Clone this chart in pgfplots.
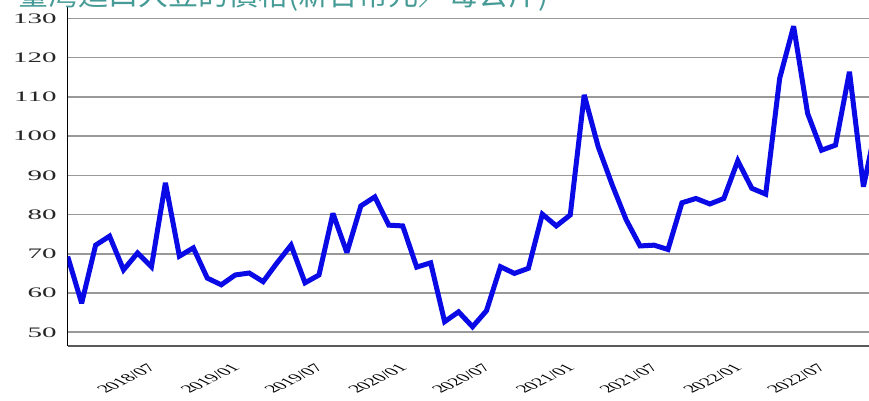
\documentclass[border=0pt]{standalone}
\usepackage{fontspec}
\setmainfont{Liberation Serif}
\newfontfamily\cjk{Noto Sans CJK TC}
\usepackage{pgfplots}
\pgfplotsset{compat=1.18}
\definecolor{titlec}{RGB}{70,155,150}
\definecolor{lineblue}{RGB}{10,10,230}

\begin{document}
\begin{tikzpicture}
\begin{axis}[
    at={(67.7pt,55pt)}, anchor=south west,
    scale only axis,
    width=801.3pt, height=339pt,
    xmin=0, xmax=57.4,
    ymin=46.5, ymax=132.9,
    axis x line=bottom, axis y line=left,
    axis line style={-},
    x axis line style={draw=black!65, line width=1.2pt},
    y axis line style={draw=black, line width=1.2pt},
    major tick length=0pt,
    ytick={50,60,...,130},
    ymajorgrids,
    grid style={draw=black!40, line width=1.6pt},
    xtick={6,12,18,24,30,36,42,48,54},
    xticklabels={2018/07,2019/01,2019/07,2020/01,2020/07,2021/01,2021/07,2022/01,2022/07},
    yticklabel style={/pgf/number format/assume math mode=true, font=\fontsize{14.5}{14.5}\selectfont, text=black!85, anchor=east, xshift=-4pt, xscale=2},
    xticklabel style={font=\fontsize{11}{11}\selectfont, anchor=east, inner sep=1pt, yshift=-19pt, xshift=2pt, xscale=2, rotate=45},
]
\addplot[lineblue, line width=5pt, line join=miter, miter limit=3] coordinates {
(0,69.3) (1,57.4) (2,72.2) (3,74.5) (4,65.9) (5,70.2) (6,66.7) (7,88.1)
(8,69.4) (9,71.5) (10,63.8) (11,62.1) (12,64.6) (13,65.1) (14,62.9) (15,67.7)
(16,72.2) (17,62.6) (18,64.6) (19,80.3) (20,70.3) (21,82.2) (22,84.5) (23,77.3)
(24,77.1) (25,66.6) (26,67.7) (27,52.7) (28,55.2) (29,51.4) (30,55.5) (31,66.7)
(32,65.0) (33,66.3) (34,80.1) (35,77.1) (36,79.9) (37,110.5) (38,97.3) (39,87.6)
(40,78.7) (41,72.0) (42,72.2) (43,71.1) (44,83.0) (45,84.1) (46,82.7) (47,84.1)
(48,93.7) (49,86.7) (50,85.2) (51,114.7) (52,128.0) (53,105.8) (54,96.4) (55,97.7)
(56,116.4) (57,87.1) (58,104.0)
};
\end{axis}
\node[anchor=base west, text=titlec, font=\cjk\fontsize{30}{30}\selectfont] at (15pt,395pt) {臺灣進口大豆的價格(新台幣元／每公斤)};
\pgfresetboundingbox
\useasboundingbox (0,0) rectangle (869pt,401pt);
\end{tikzpicture}
\end{document}
